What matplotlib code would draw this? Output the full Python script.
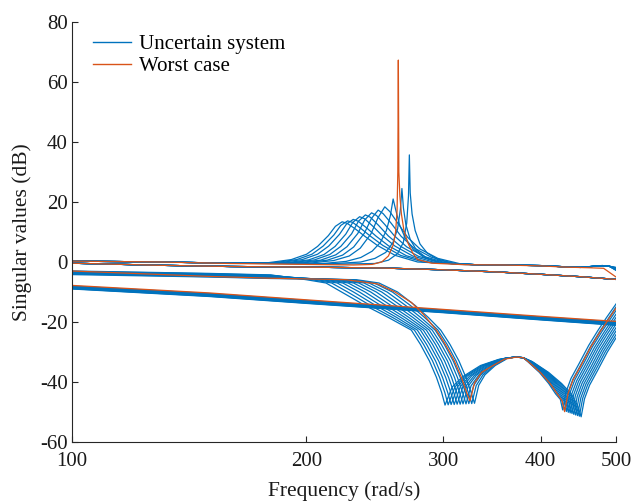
import matplotlib
matplotlib.use("Agg")
import matplotlib.pyplot as plt
from matplotlib.lines import Line2D

plt.rcParams['font.family'] = ['Liberation Serif', 'DejaVu Serif']

# ---------------- data ----------------
x_ticks = [100, 200, 300, 400, 500]
x_tick_labels = ['100', '200', '300', '400', '500']
y_ticks = [-60, -40, -20, 0, 20, 40, 60, 80]
y_tick_labels = ['-60', '-40', '-20', '0', '20', '40', '60', '80']
legend_labels = ['Uncertain system', 'Worst case']

# singular value 1 (resonant branch) of the uncertain samples
sv1_head_freq = [100, 130, 160]
sv1_head_db = [0.3, 0.0, -0.4]
sv1_tail_freq = [330, 360, 400, 430, 450, 465, 480, 490, 500]
sv1_tail_db = [-0.9, -1.0, -1.2, -1.6, -1.8, -1.5, -1.2, -1.4]
sv1_end_db = [-1.8, -2.0, -2.2, -2.4, -2.6, -2.8, -1.9, -2.1, -2.3, -2.5, -2.7]
sv1_peak_freq = [
    [177.9, 191.3, 200.2, 206.8, 213.5, 218.0, 222.4, 225.7, 231.3, 238.0, 246.9, 260.2, 278.0],
    [180.8, 194.4, 203.4, 210.2, 217.0, 221.5, 226.0, 229.4, 235.0, 241.8, 250.9, 264.4, 282.5],
    [183.8, 197.6, 206.8, 213.7, 220.6, 225.2, 229.8, 233.2, 239.0, 245.9, 255.1, 268.9, 287.3],
    [187.4, 201.4, 210.8, 217.8, 224.8, 229.5, 234.2, 237.7, 243.6, 250.6, 260.0, 274.0, 292.8],
    [190.6, 204.9, 214.4, 221.5, 228.7, 233.4, 238.2, 241.8, 247.7, 254.9, 264.4, 278.7, 297.8],
    [194.1, 208.6, 218.3, 225.6, 232.9, 237.7, 242.6, 246.2, 252.3, 259.6, 269.3, 283.8, 303.3],
    [197.9, 212.8, 222.7, 230.1, 237.5, 242.5, 247.4, 251.1, 257.3, 264.7, 274.6, 289.5, 309.3],
    [201.8, 217.0, 227.1, 234.6, 242.2, 247.3, 252.3, 256.1, 262.4, 270.0, 280.1, 295.2, 315.4],
    [210, 225, 235, 243, 249, 253.5, 256.5, 258.6, 260.5, 263.5, 268, 274, 283, 296, 315],
    [215, 235, 245, 253, 258.5, 262, 264.2, 265.4, 266.6, 268.5, 272, 277, 286, 300, 318],
    [220, 245, 255, 262, 266.5, 269.2, 270.6, 271.3, 272.0, 273.5, 276, 280, 286, 296, 312],
]
sv1_peak_db = [
    [-0.3, 0.8, 2.6, 5.2, 8.8, 11.9, 13.4, 12.9, 11.0, 8.5, 5.5, 2.2, 0.0],
    [-0.3, 0.8, 2.6, 5.3, 9.0, 12.2, 13.7, 13.2, 11.2, 8.6, 5.5, 2.2, 0.0],
    [-0.3, 0.8, 2.6, 5.3, 9.2, 12.6, 14.2, 13.6, 11.4, 8.6, 5.4, 2.1, -0.1],
    [-0.3, 0.7, 2.5, 5.2, 9.3, 13.2, 15.1, 14.4, 11.9, 8.7, 5.3, 2.0, -0.2],
    [-0.3, 0.7, 2.5, 5.2, 9.4, 13.6, 15.7, 14.9, 12.2, 8.7, 5.2, 1.9, -0.3],
    [-0.3, 0.6, 2.4, 5.1, 9.5, 14.0, 16.4, 15.5, 12.5, 8.7, 5.0, 1.8, -0.4],
    [-0.3, 0.6, 2.3, 5.0, 9.6, 14.5, 17.3, 16.1, 12.8, 8.6, 4.8, 1.6, -0.5],
    [-0.4, 0.5, 2.0, 4.6, 9.4, 14.8, 18.4, 16.8, 12.8, 8.2, 4.3, 1.2, -0.6],
    [-0.5, 0.2, 1.5, 3.6, 6.5, 10.5, 15.5, 21.0, 17.5, 12.5, 8.0, 4.5, 1.6, -0.2, -0.8],
    [-0.6, 0.0, 1.2, 3.2, 6.5, 11.0, 17.5, 24.5, 18.0, 12.5, 7.5, 4.0, 1.2, -0.3, -0.8],
    [-0.7, -0.5, 0.6, 2.8, 6.5, 13.0, 22.0, 35.7, 23.0, 16.0, 10.5, 6.0, 3.0, 0.6, -0.6],
]

# singular value 2 (nearly straight, shared)
sv2_freq = [100, 130, 160, 200, 250, 300, 350, 400, 450, 500]
sv2_db = [-0.4, -1.1, -1.5, -1.7, -2.0, -2.6, -3.3, -4.1, -4.9, -5.8]

# singular value 3 (double notch branch)
sv3_head_freq = [100, 150, 180]
sv3_head_db = [
    [-3.0, -3.8, -4.3], [-3.1, -3.9, -4.4], [-3.2, -4.0, -4.5], [-3.4, -4.2, -4.6],
    [-3.5, -4.3, -4.7], [-3.6, -4.4, -4.9], [-3.7, -4.5, -5.0], [-3.8, -4.6, -5.1],
    [-3.9, -4.8, -5.2], [-4.0, -4.9, -5.4], [-4.2, -5.0, -5.5],
]
# first notch branch (descent, notch, rise towards the hump)
sv3_notch1_freq = [
    [200.0, 212.0, 222.0, 238.0, 255.0, 272.9, 280.4, 287.9, 294.0, 298.5, 301.5, 307.9, 317.8, 334.9, 353.0],
    [203.2, 215.6, 226.0, 241.8, 258.2, 275.4, 283.0, 290.6, 296.7, 301.3, 304.3, 310.5, 320.0, 336.5, 353.8],
    [206.4, 219.2, 230.0, 245.6, 261.4, 277.8, 285.5, 293.2, 299.3, 303.9, 307.0, 313.0, 322.1, 337.9, 354.6],
    [209.6, 222.8, 234.0, 249.4, 264.6, 280.4, 288.1, 295.9, 302.1, 306.7, 309.8, 315.5, 324.3, 339.5, 355.4],
    [212.8, 226.4, 238.0, 253.2, 267.8, 282.8, 290.6, 298.4, 304.7, 309.4, 312.5, 318.0, 326.4, 340.9, 356.1],
    [216.0, 230.0, 242.0, 257.0, 271.0, 285.3, 293.2, 301.1, 307.4, 312.1, 315.3, 320.6, 328.6, 342.5, 356.9],
    [219.2, 233.6, 246.0, 260.8, 274.2, 287.8, 295.7, 303.7, 310.1, 314.8, 318.0, 323.0, 330.7, 343.9, 357.7],
    [222.4, 237.2, 250.0, 264.6, 277.4, 290.3, 298.3, 306.4, 312.8, 317.6, 320.8, 325.6, 332.9, 345.4, 358.5],
    [225.6, 240.8, 254.0, 268.4, 280.6, 292.8, 300.9, 308.9, 315.4, 320.3, 323.5, 328.1, 335.0, 346.9, 359.2],
    [228.8, 244.4, 258.0, 272.2, 283.8, 295.3, 303.5, 311.6, 318.1, 323.0, 326.3, 330.6, 337.2, 348.4, 360.0],
    [232.0, 248.0, 262.0, 276.0, 287.0, 297.7, 306.0, 314.2, 320.8, 325.7, 329.0, 333.1, 339.3, 349.8, 360.7],
]
sv3_notch1_db = [
    [-5.9, -7.0, -10.0, -14.5, -18.5, -22.7, -27.5, -33.0, -38.5, -43.5, -47.7, -41.7, -38.2, -34.5, -32.5],
    [-5.9, -7.0, -10.0, -14.5, -18.5, -22.7, -27.5, -33.0, -38.5, -43.5, -47.6, -41.6, -38.1, -34.5, -32.5],
    [-5.9, -7.0, -10.0, -14.5, -18.5, -22.7, -27.5, -33.0, -38.5, -43.5, -47.5, -41.5, -38.0, -34.5, -32.5],
    [-5.9, -7.0, -10.0, -14.5, -18.5, -22.7, -27.5, -33.0, -38.5, -43.5, -47.5, -41.5, -38.0, -34.5, -32.5],
    [-5.9, -7.0, -10.0, -14.5, -18.5, -22.7, -27.5, -33.0, -38.5, -43.5, -47.4, -41.4, -37.9, -34.5, -32.5],
    [-5.9, -7.0, -10.0, -14.5, -18.5, -22.7, -27.5, -33.0, -38.5, -43.5, -47.4, -41.4, -37.9, -34.5, -32.5],
    [-5.9, -7.0, -10.0, -14.5, -18.5, -22.7, -27.5, -33.0, -38.5, -43.5, -47.3, -41.3, -37.8, -34.5, -32.5],
    [-5.9, -7.0, -10.0, -14.5, -18.5, -22.7, -27.5, -33.0, -38.5, -43.5, -47.3, -41.3, -37.8, -34.5, -32.5],
    [-5.9, -7.0, -10.0, -14.5, -18.5, -22.7, -27.5, -33.0, -38.5, -43.5, -47.2, -41.2, -37.7, -34.5, -32.5],
    [-5.9, -7.0, -10.0, -14.5, -18.5, -22.7, -27.5, -33.0, -38.5, -43.5, -47.2, -41.2, -37.7, -34.5, -32.5],
    [-5.9, -7.0, -10.0, -14.5, -18.5, -22.7, -27.5, -33.0, -38.5, -43.5, -47.1, -41.1, -37.6, -34.5, -32.5],
]
# common rounded hump between the two notches
sv3_hump_freq = [362, 372, 380]
sv3_hump_db = [-32.0, -31.7, -31.9]
# second notch branch (descent, notch, rise to 500 rad/s)
sv3_notch2_freq = [
    [390.3, 409.6, 425.7, 438.2, 446.7, 451.0, 455.5, 462.3, 473.6, 487.1, 500],
    [389.8, 408.5, 424.1, 436.2, 444.4, 448.6, 453.1, 459.8, 471.0, 484.5, 500],
    [389.3, 407.4, 422.5, 434.2, 442.1, 446.2, 450.7, 457.4, 468.5, 481.9, 500],
    [388.8, 406.3, 420.9, 432.2, 439.8, 443.8, 448.2, 454.9, 466.0, 479.3, 492.6, 500],
    [388.3, 405.2, 419.3, 430.2, 437.6, 441.4, 445.8, 452.4, 463.5, 476.7, 490.0, 500],
    [387.7, 404.1, 417.7, 428.2, 435.4, 439.0, 443.4, 450.0, 461.0, 474.1, 487.3, 500],
    [387.2, 403.0, 416.1, 426.3, 433.1, 436.6, 441.0, 447.5, 458.4, 471.5, 484.6, 497.7, 500],
    [386.7, 401.9, 414.5, 424.3, 430.8, 434.2, 438.5, 445.1, 455.9, 468.9, 482.0, 495.0, 500],
    [386.1, 400.8, 412.9, 422.3, 428.7, 431.8, 436.1, 442.6, 453.4, 466.3, 479.3, 492.3, 500],
    [385.6, 399.7, 411.3, 420.3, 426.3, 429.4, 433.7, 440.1, 450.9, 463.8, 476.6, 489.5, 500],
    [385.1, 398.6, 409.7, 418.3, 424.1, 427.0, 431.3, 437.7, 448.4, 461.2, 474.0, 486.8, 500],
]
sv3_notch2_db = [
    [-33.2, -36.8, -40.5, -44.0, -48.1, -51.6, -45.6, -41.1, -36.1, -30.1, -25.3],
    [-33.2, -36.8, -40.5, -44.0, -47.9, -51.4, -45.4, -40.9, -35.9, -29.9, -24.2],
    [-33.2, -36.8, -40.5, -44.0, -47.7, -51.2, -45.2, -40.7, -35.7, -29.7, -23.0],
    [-33.2, -36.8, -40.5, -44.0, -47.5, -51.0, -45.0, -40.5, -35.5, -29.5, -24.5, -21.9],
    [-33.2, -36.8, -40.5, -44.0, -47.3, -50.8, -44.8, -40.3, -35.3, -29.3, -24.3, -20.7],
    [-33.2, -36.8, -40.5, -44.0, -47.0, -50.5, -44.5, -40.0, -35.0, -29.0, -24.0, -19.6],
    [-33.2, -36.8, -40.5, -44.0, -46.8, -50.3, -44.3, -39.8, -34.8, -28.8, -23.8, -19.3, -18.5],
    [-33.2, -36.8, -40.5, -44.0, -46.6, -50.1, -44.1, -39.6, -34.6, -28.6, -23.6, -19.1, -17.4],
    [-33.2, -36.8, -40.5, -44.0, -46.3, -49.8, -43.8, -39.3, -34.3, -28.3, -23.3, -18.8, -16.2],
    [-33.2, -36.8, -40.5, -44.0, -46.1, -49.6, -43.6, -39.1, -34.1, -28.1, -23.1, -18.6, -15.0],
    [-33.2, -36.8, -40.5, -44.0, -45.8, -49.3, -43.3, -38.8, -33.8, -27.8, -22.8, -18.3, -14.0],
]

# singular value 4 (lowest, nearly straight)
sv4_freq = [100, 150, 200, 300, 400, 500]
sv4_db = [
    [-8.0, -10.5, -12.8, -16.0, -18.3, -20.0],
    [-8.1, -10.6, -12.9, -16.1, -18.4, -20.2],
    [-8.2, -10.7, -13.0, -16.2, -18.5, -20.3],
    [-8.3, -10.8, -13.1, -16.2, -18.6, -20.4],
    [-8.4, -10.9, -13.2, -16.3, -18.7, -20.5],
    [-8.5, -11.0, -13.3, -16.4, -18.8, -20.6],
    [-8.6, -11.1, -13.4, -16.5, -18.9, -20.7],
    [-8.7, -11.2, -13.5, -16.6, -19.0, -20.8],
    [-8.8, -11.3, -13.6, -16.7, -19.1, -20.9],
    [-8.9, -11.4, -13.7, -16.8, -19.2, -21.0],
    [-9.0, -11.5, -13.8, -16.9, -19.3, -21.1],
]

# worst case
wc_sv1_freq = [100, 130, 160, 200, 230, 243, 250, 255, 258.5, 260.5, 261.6, 262.2, 262.6,
               263.0, 263.8, 265, 267, 270, 274, 278, 290, 320, 360, 400, 430, 460, 482, 500]
wc_sv1_db = [0.3, 0.0, -0.5, -0.8, -1.0, -0.8, 0.0, 2.0, 5.5, 10.0, 17.0, 30.0, 67.3,
             30.0, 22.0, 16.0, 10.5, 6.5, 3.0, 0.8, -0.4, -0.9, -1.0, -1.3, -1.7, -1.9, -2.1, -5.0]
wc_sv3_freq = [100, 150, 180, 225, 247, 260, 273, 283, 293.8, 301.9, 310.0, 316.5, 321.4,
               324.6, 329.0, 335.9, 347.5, 359.5, 372, 380, 385.6, 399.7, 411.4, 420.4, 426.4, 429.5,
               433.8, 440.2, 451.0, 463.9, 476.7, 489.6, 500]
wc_sv3_db = [-3.0, -4.8, -5.4, -5.9, -7.3, -10.0, -13.5, -17.5, -22.7, -27.5, -33.0, -38.5, -43.5,
             -46.3, -40.3, -36.8, -34.5, -32.4, -31.7, -31.9, -33.2, -36.8, -40.5, -44.0, -46.4, -49.9,
             -43.9, -39.4, -34.4, -28.4, -23.4, -18.9, -15.4]
wc_sv4_db = [-7.8, -10.3, -12.6, -15.8, -18.1, -19.8]

# ---------------- drawing ----------------
BLUE = '#0072BD'
RED = '#D95319'
LW = 0.9

fig = plt.figure(figsize=(6.33, 5.01), dpi=100)
ax = fig.add_axes([72 / 633, 59 / 501, 544 / 633, 420 / 501])

n = len(sv1_peak_freq)
for i in range(n):
    f = sv1_head_freq + sv1_peak_freq[i] + sv1_tail_freq
    d = sv1_head_db + sv1_peak_db[i] + sv1_tail_db + [sv1_end_db[i]]
    ax.plot(f, d, color=BLUE, lw=LW)
    ax.plot(sv2_freq, sv2_db, color=BLUE, lw=LW)
    f3 = sv3_head_freq + sv3_notch1_freq[i] + sv3_hump_freq + sv3_notch2_freq[i]
    d3 = sv3_head_db[i] + sv3_notch1_db[i] + sv3_hump_db + sv3_notch2_db[i]
    ax.plot(f3, d3, color=BLUE, lw=LW)
    ax.plot(sv4_freq, sv4_db[i], color=BLUE, lw=LW)

ax.plot(wc_sv1_freq, wc_sv1_db, color=RED, lw=LW)
ax.plot(sv2_freq, sv2_db, color=RED, lw=LW)
ax.plot(wc_sv3_freq, wc_sv3_db, color=RED, lw=LW)
ax.plot(sv4_freq, wc_sv4_db, color=RED, lw=LW)

ax.set_xscale('log')
ax.set_xlim(100, 500)
ax.set_ylim(-60, 80)
ax.set_xticks(x_ticks)
ax.set_xticklabels(x_tick_labels)
ax.xaxis.set_minor_locator(matplotlib.ticker.NullLocator())
ax.set_yticks(y_ticks)
ax.set_yticklabels(y_tick_labels)

for s in ['top', 'right']:
    ax.spines[s].set_visible(False)
for s in ['left', 'bottom']:
    ax.spines[s].set_color('#262626')
    ax.spines[s].set_linewidth(0.8)
ax.tick_params(direction='in', length=4, width=0.8, colors='#262626',
               labelsize=15, labelcolor='#1a1a1a')
ax.tick_params(axis='x', pad=7)
ax.tick_params(axis='y', pad=3)

ax.set_xlabel('Frequency (rad/s)', fontsize=15.5, color='#1a1a1a', labelpad=7.5)
ax.set_ylabel('Singular values (dB)', fontsize=15.5, color='#1a1a1a', labelpad=5.5)

handles = [Line2D([0], [0], color=BLUE, lw=1.0), Line2D([0], [0], color=RED, lw=1.0)]
ax.legend(handles, legend_labels, loc='upper left', bbox_to_anchor=(0.031, 0.98),
          frameon=False, fontsize=15, handlelength=1.8, handletextpad=0.4,
          labelspacing=0.1, borderaxespad=0.0, borderpad=0.2)

fig.savefig('out.png', dpi=100)
